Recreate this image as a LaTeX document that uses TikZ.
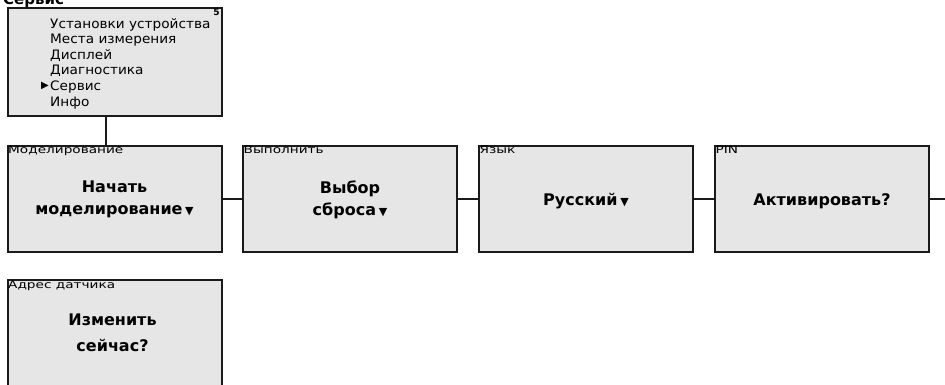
\documentclass[tikz,border=0pt]{standalone}
\usepackage{fontspec}
\setmainfont{DejaVu Sans}
\newfontfamily\symfont{DejaVu Sans}
\newfontfamily\headfont{DejaVu Sans}[FakeStretch=1.3]
\newfontfamily\menufont{DejaVu Sans}[FakeStretch=1.05]
\usetikzlibrary{positioning}
\definecolor{cscr}{HTML}{E6E6E6}
\definecolor{cedge}{HTML}{1A1A1A}
\newcommand{\dnarr}{\,{\symfont\fontsize{11}{11}\selectfont ▼}}

\begin{document}
\begin{tikzpicture}[x=1pt,y=-1pt,
  scrbox/.style={draw=cedge,line width=2pt,fill=cscr,minimum width=214pt,minimum height=106pt,inner sep=0pt},
  scrhead/.style={anchor=north west,inner sep=1.5pt,font=\headfont\fontsize{10.5}{12}\selectfont},
  scrtext/.style={align=center,font=\fontsize{16}{22}\selectfont\bfseries},
  menutext/.style={anchor=base west,inner sep=0pt,align=left,font=\menufont\fontsize{13}{15.6}\selectfont},
  link/.style={draw=cedge,line width=2pt}]
  \clip (0,0) rectangle (945,384);
  \fill[white] (0,0) rectangle (945,384);
  \node[anchor=base west,inner sep=0pt,font=\fontsize{15}{15}\selectfont\bfseries] (title) at (3,4) {Сервис};
  % menu
  \node[scrbox,minimum height=108pt] (menu) at (115,62) {};
  \node[menutext] (items) at (50,106) {Установки устройства\\Места измерения\\Дисплей\\Диагностика\\Сервис\\Инфо};
  \node[inner sep=0pt,font=\symfont\fontsize{10}{10}\selectfont] (mark) at (45,86) {▶};
  \node[inner sep=0pt,font=\fontsize{9}{9}\selectfont\bfseries] (page) at (216.5,12) {5};
  % row of screens
  \node[scrbox] (sim) at (114.5,198.5) {};
  \node[scrbox] (reset) at (350,198.5) {};
  \node[scrbox] (lang) at (586,198.5) {};
  \node[scrbox] (pin) at (822,198.5) {};
  \node[scrbox] (addr) at (114.5,333) {};
  \node[scrhead] at (sim.north west) {Моделирование};
  \node[scrhead] at (reset.north west) {Выполнить};
  \node[scrhead] at (lang.north west) {Язык};
  \node[scrhead] at (pin.north west) {PIN};
  \node[scrhead] at (addr.north west) {Адрес датчика};
  \node[scrtext] at ([yshift=-1pt]sim.center) {Начать\\моделирование\dnarr};
  \node[scrtext] at ([yshift=-1pt]reset.center) {Выбор\\сброса\dnarr};
  \node[scrtext] at ([yshift=-3pt]lang.center) {Русский\dnarr};
  \node[scrtext] at ([yshift=-3pt]pin.center) {Активировать?};
  \node[scrtext,font=\fontsize{16}{26}\selectfont\bfseries] at ([xshift=-2pt]addr.north |- 0,333) {Изменить\\сейчас?};
  \coordinate (out) at (945,198.5);
  % connectors
  \draw[link] ([xshift=-9pt]menu.south) -- ([xshift=-8.5pt]sim.north);
  \draw[link] (sim) -- (reset);
  \draw[link] (reset) -- (lang);
  \draw[link] (lang) -- (pin);
  \draw[link] (pin.east) -- (out);
\end{tikzpicture}
\end{document}
